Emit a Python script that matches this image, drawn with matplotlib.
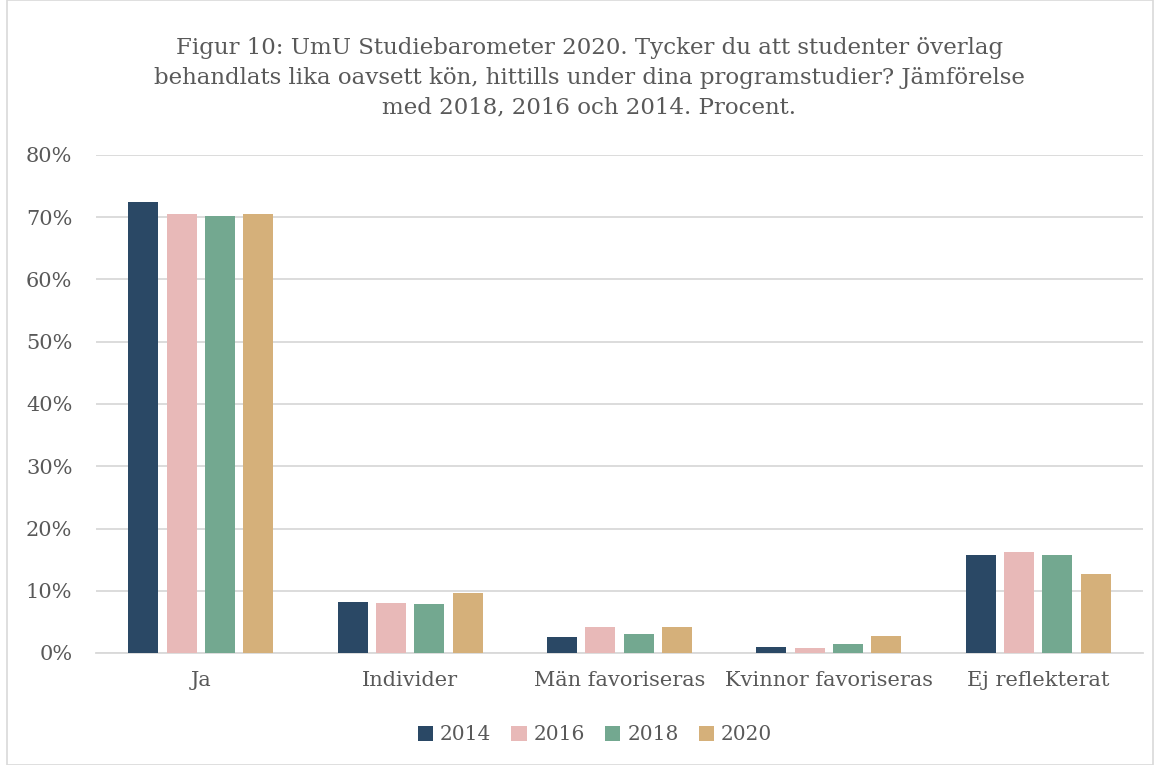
import matplotlib
matplotlib.use("Agg")
import matplotlib.pyplot as plt
import numpy as np
from matplotlib.patches import Rectangle

categories = ["Ja", "Individer", "Män favoriseras", "Kvinnor favoriseras", "Ej reflekterat"]
years = ["2014", "2016", "2018", "2020"]
v2014 = [72.4, 8.2, 2.6, 1.0, 15.7]
v2016 = [70.5, 8.1, 4.1, 0.85, 16.2]
v2018 = [70.2, 7.8, 3.05, 1.4, 15.7]
v2020 = [70.6, 9.7, 4.2, 2.7, 12.7]
series = [v2014, v2016, v2018, v2020]
colors = ["#2A4865", "#E8B9B8", "#73A890", "#D5B07A"]
yticks = [0, 10, 20, 30, 40, 50, 60, 70, 80]
title = ("Figur 10: UmU Studiebarometer 2020. Tycker du att studenter överlag\n"
         "behandlats lika oavsett kön, hittills under dina programstudier? Jämförelse\n"
         "med 2018, 2016 och 2014. Procent.")

plt.rcParams['font.family'] = ['DejaVu Serif']
fig = plt.figure(figsize=(11.6, 7.65), dpi=100)
ax = fig.add_axes([96/1160, 1-653/765, 1047/1160, (653-155)/765])

x = np.arange(len(categories))
bw = 0.143
step = 0.183
for i, (vals, c, yr) in enumerate(zip(series, colors, years)):
    ax.bar(x + (i - 1.5) * step, vals, width=bw, color=c, label=yr, zorder=3)

ax.set_xlim(-0.5, len(categories) - 0.5)
ax.set_ylim(0, 80)
ax.set_yticks(yticks)
ax.set_yticklabels([f"{t}%" for t in yticks])
ax.set_xticks(x)
ax.set_xticklabels(categories)
ax.grid(axis='y', color='#D9D9D9', linewidth=1.3, zorder=0)
for s in ['top', 'right', 'left']:
    ax.spines[s].set_visible(False)
ax.spines['bottom'].set_color('#D9D9D9')
ax.spines['bottom'].set_linewidth(1.3)
ax.tick_params(axis='both', length=0, colors='#595959', labelsize=15)
ax.tick_params(axis='y', pad=17)
ax.tick_params(axis='x', pad=13)

fig.text(0.508, 1 - 78/765, title, ha='center', va='center', fontsize=16.5,
         color='#595959', linespacing=1.45)

leg = fig.legend(loc='center', bbox_to_anchor=(0.513, 1 - 735/765), ncol=4, frameon=False,
                 fontsize=14.5, handlelength=0.75, handleheight=0.75, handletextpad=0.35,
                 columnspacing=1.0)
for t in leg.get_texts():
    t.set_color('#595959')

fig.patches.append(Rectangle((7/1160, 0), 1 - 14/1160, 1, transform=fig.transFigure,
                             fill=False, edgecolor='#D9D9D9', linewidth=1.2))

fig.savefig("out.png", dpi=100)
